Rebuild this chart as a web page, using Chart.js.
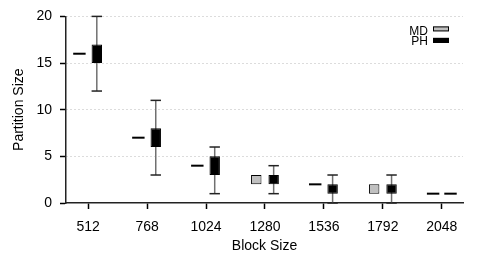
<!DOCTYPE html>
<html>
<head>
<meta charset="utf-8">
<script src="https://cdn.jsdelivr.net/npm/chart.js@4.4.1/dist/chart.umd.min.js"></script>
<style>
  html, body { margin: 0; padding: 0; background: #fff; }
</style>
</head>
<body>
<canvas id="chart" width="488" height="255"></canvas>
<script>
const blockSizes = [512, 768, 1024, 1280, 1536, 1792, 2048];
// MD: box only, no whiskers
const mdLow  = [16, 7, 4, 2, 2, 1, 1];
const mdHigh = [16, 7, 4, 3, 2, 2, 1];
// PH: whiskers + box
const phMin  = [12, 3, 1, 1, 0, 0, 1];
const phLow  = [15, 6, 3, 2, 1, 1, 1];
const phHigh = [17, 8, 5, 3, 2, 2, 1];
const phMax  = [20, 11, 6, 4, 3, 3, 1];
const yTicks = [0, 5, 10, 15, 20];

const FONT = '"Liberation Sans", Arial, Helvetica, sans-serif';

// whiskers behind boxes, flat boxes (low == high) drawn as thick lines, legend inside plot
const boxExtras = {
  id: 'boxExtras',
  beforeDatasetsDraw(chart) {
    const ctx = chart.ctx, y = chart.scales.y;
    chart.data.datasets.forEach((ds, di) => {
      if (!ds.whiskerMin) return;
      chart.getDatasetMeta(di).data.forEach((bar, i) => {
        const lo = ds.whiskerMin[i], hi = ds.whiskerMax[i];
        if (lo === hi) return;
        const x = bar.x, w = bar.width;
        ctx.save();
        ctx.strokeStyle = '#707070';
        ctx.lineWidth = 1.5;
        ctx.beginPath();
        ctx.moveTo(x, y.getPixelForValue(lo));
        ctx.lineTo(x, y.getPixelForValue(hi));
        ctx.stroke();
        ctx.strokeStyle = '#222';
        [lo, hi].forEach(v => {
          const py = y.getPixelForValue(v);
          ctx.beginPath();
          ctx.moveTo(x - w / 2, py);
          ctx.lineTo(x + w / 2, py);
          ctx.stroke();
        });
        ctx.restore();
      });
    });
  },
  afterDatasetsDraw(chart) {
    const ctx = chart.ctx, y = chart.scales.y;
    chart.data.datasets.forEach((ds, di) => {
      chart.getDatasetMeta(di).data.forEach((bar, i) => {
        const [lo, hi] = ds.data[i].y;
        if (lo !== hi) return;
        const py = y.getPixelForValue(lo);
        ctx.save();
        ctx.strokeStyle = '#000';
        ctx.lineWidth = 2;
        ctx.beginPath();
        ctx.moveTo(bar.x - bar.width / 2 - 1, py);
        ctx.lineTo(bar.x + bar.width / 2 + 1, py);
        ctx.stroke();
        ctx.restore();
      });
    });
  },
  afterDraw(chart) {
    const ctx = chart.ctx, area = chart.chartArea;
    ctx.save();
    ctx.font = '12px ' + FONT;
    ctx.textAlign = 'right';
    ctx.textBaseline = 'middle';
    chart.data.datasets.forEach((ds, di) => {
      const cy = area.top + 15 + di * 10;
      ctx.fillStyle = '#000';
      ctx.fillText(ds.label, area.right - 35, cy);
      const sy = area.top + 10 + di * 11.5;
      ctx.fillStyle = ds.backgroundColor;
      ctx.fillRect(area.right - 30, sy, 16, 5);
      ctx.strokeStyle = '#000';
      ctx.lineWidth = 1;
      ctx.strokeRect(area.right - 29.5, sy + 0.5, 15, 4);
    });
    ctx.restore();
  }
};

new Chart(document.getElementById('chart'), {
  type: 'bar',
  data: {
    datasets: [
      {
        label: 'MD',
        data: blockSizes.map((b, i) => ({ x: b, y: [mdLow[i], mdHigh[i]] })),
        backgroundColor: '#c0c0c0',
        borderColor: '#000',
        borderWidth: 1,
        borderSkipped: false
      },
      {
        label: 'PH',
        data: blockSizes.map((b, i) => ({ x: b, y: [phLow[i], phHigh[i]] })),
        whiskerMin: phMin,
        whiskerMax: phMax,
        backgroundColor: '#000',
        borderColor: '#000',
        borderWidth: 1,
        borderSkipped: false
      }
    ]
  },
  options: {
    responsive: false,
    animation: false,
    categoryPercentage: 0.59,
    barPercentage: 0.6,
    layout: { padding: { top: 15, right: 25, left: 0, bottom: 0 } },
    plugins: { legend: { display: false }, tooltip: { enabled: false } },
    scales: {
      x: {
        type: 'linear',
        min: 416,
        max: 2140,
        offset: false,
        afterBuildTicks: s => { s.ticks = blockSizes.map(v => ({ value: v })); },
        afterFit: s => { s.height = 52; },
        grid: { offset: false, drawOnChartArea: false, drawTicks: true, tickLength: 6, tickColor: '#000', tickWidth: 1.5 },
        border: { color: '#222', width: 1.5 },
        ticks: { color: '#000', font: { family: FONT, size: 14 }, padding: 10, maxRotation: 0, callback: v => String(v) },
        title: { display: true, text: 'Block Size', color: '#000', font: { family: FONT, size: 14 }, padding: { top: 0, bottom: 0 } }
      },
      y: {
        min: 0,
        max: 20,
        afterBuildTicks: s => { s.ticks = yTicks.map(v => ({ value: v })); },
        afterFit: s => { s.width = 66; },
        grid: {
          color: c => c.tick && c.tick.value === 0 ? 'rgba(0,0,0,0)' : '#b8b8b8',
          lineWidth: 1,
          tickColor: '#000',
          tickLength: 6,
          tickWidth: 1.5
        },
        border: { color: '#222', width: 1.5, dash: [1, 3] },
        ticks: { color: '#000', font: { family: FONT, size: 14 }, padding: 8 },
        title: { display: true, text: 'Partition Size', color: '#000', font: { family: FONT, size: 14 }, padding: { top: 11, bottom: 0 } }
      }
    }
  },
  plugins: [boxExtras]
});
</script>
</body>
</html>
